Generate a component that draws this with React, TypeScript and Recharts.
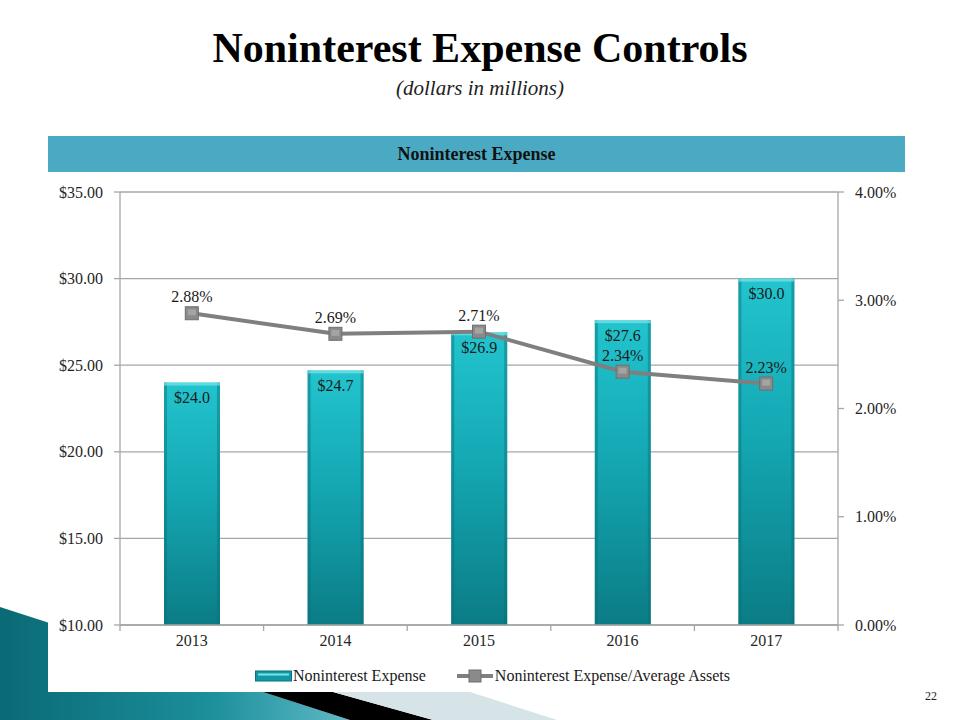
import { Bar, CartesianGrid, ComposedChart, LabelList, Legend, Line, XAxis, YAxis } from 'recharts'

const YEARS = ['2013', '2014', '2015', '2016', '2017']
const EXPENSE = [24.0, 24.7, 26.9, 27.6, 30.0]
const EXPENSE_RATIO = [2.88, 2.69, 2.71, 2.34, 2.23]
const LEFT_TICKS = [10, 15, 20, 25, 30, 35]
const RIGHT_TICKS = [0, 1, 2, 3, 4]

const SERIF = '"Liberation Serif", "Times New Roman", serif'
const GRID = '#a6a6a6'
const TEXT = '#1a1a1a'
const X_TICK_SIZE = 6
const X_TICK_MARGIN = 4

const data = YEARS.map((year, i) => ({
  year,
  expense: EXPENSE[i],
  ratio: EXPENSE_RATIO[i],
}))

function BarShape(props: any) {
  const { x, y, width, height } = props
  if (!height || height <= 0) return null
  return (
    <g>
      <rect x={x} y={y} width={width} height={height} fill="url(#barFill)" />
      <rect x={x} y={y} width={3} height={height} fill="#0a6f77" opacity={0.45} />
      <rect x={x + width - 3} y={y} width={3} height={height} fill="#0a6f77" opacity={0.45} />
      <rect x={x} y={y} width={width} height={3} fill="#7fe4ea" opacity={0.7} />
    </g>
  )
}

function SquareDot(props: any) {
  const { cx, cy } = props
  if (cx == null || cy == null) return null
  return (
    <g>
      <rect x={cx - 6.5} y={cy - 6.5} width={13} height={13} fill="#8a8a8a" stroke="#6f6f6f" strokeWidth={1} />
      <rect x={cx - 4} y={cy - 4} width={8} height={6} fill="#a4a4a4" />
    </g>
  )
}

// year label, with the tick marks sitting on the category edges (Excel style)
function YearTick(props: any) {
  const { x, y, payload, index, width, visibleTicksCount } = props
  const half = width / visibleTicksCount / 2
  const y1 = y - X_TICK_SIZE - X_TICK_MARGIN
  const last = index === visibleTicksCount - 1
  return (
    <g>
      <line x1={x - half} y1={y1} x2={x - half} y2={y1 + X_TICK_SIZE} stroke={GRID} strokeWidth={1.3} />
      {last && <line x1={x + half} y1={y1} x2={x + half} y2={y1 + X_TICK_SIZE} stroke={GRID} strokeWidth={1.3} />}
      <text x={x} y={y} dy="0.71em" textAnchor="middle" fontFamily={SERIF} fontSize={16} fill="#262626">
        {payload.value}
      </text>
    </g>
  )
}

function LegendContent() {
  return (
    <div
      style={{
        height: 22,
        display: 'flex',
        justifyContent: 'center',
        alignItems: 'center',
        fontFamily: SERIF,
        fontSize: 16,
        color: TEXT,
        paddingLeft: 32,
      }}
    >
      <svg width={37} height={12} style={{ marginRight: 1 }}>
        <rect x={0.5} y={1} width={36} height={10} fill="#1099a4" stroke="#0b7480" />
        <rect x={3} y={3.5} width={31} height={2} fill="#7fe4ea" />
      </svg>
      <span>Noninterest Expense</span>
      <svg width={36} height={14} style={{ marginLeft: 31, marginRight: 2 }}>
        <line x1={0} y1={7} x2={36} y2={7} stroke="#7f7f7f" strokeWidth={4} />
        <rect x={12} y={1} width={12} height={12} fill="#8a8a8a" stroke="#6f6f6f" />
      </svg>
      <span>Noninterest Expense/Average Assets</span>
    </div>
  )
}

export default function App() {
  const tickStyle = { fontFamily: SERIF, fontSize: 16, fill: '#262626' }
  return (
    <div
      style={{
        position: 'absolute',
        left: 0,
        top: 0,
        width: 960,
        height: 720,
        background: '#ffffff',
        overflow: 'hidden',
        fontFamily: SERIF,
      }}
    >
      <svg width={960} height={720} style={{ position: 'absolute', left: 0, top: 0 }}>
        <defs>
          <linearGradient id="tealDeco" x1="0" y1="0" x2="1" y2="0">
            <stop offset="0%" stopColor="#0a6a75" />
            <stop offset="60%" stopColor="#1b8f9b" />
            <stop offset="100%" stopColor="#5fb9c4" />
          </linearGradient>
        </defs>
        <polygon points="0,607 350,720 0,720" fill="url(#tealDeco)" />
        <polygon points="263,692 333,692 433,720 350,720" fill="#000000" />
        <polygon points="333,692 470,692 557,720 433,720" fill="#d6e4e7" />
      </svg>

      <div
        style={{
          position: 'absolute',
          left: 0,
          top: 24,
          width: 960,
          textAlign: 'center',
          fontSize: 42,
          fontWeight: 'bold',
          color: '#000',
          lineHeight: '48px',
        }}
      >
        Noninterest Expense Controls
      </div>
      <div
        style={{
          position: 'absolute',
          left: 0,
          top: 75,
          width: 960,
          textAlign: 'center',
          fontSize: 21,
          fontStyle: 'italic',
          color: '#222',
          lineHeight: '26px',
        }}
      >
        (dollars in millions)
      </div>

      <div
        style={{
          position: 'absolute',
          left: 48,
          top: 136,
          width: 857,
          height: 36,
          background: '#4aaac4',
          color: '#111',
          fontWeight: 'bold',
          fontSize: 18,
          lineHeight: '36px',
          textAlign: 'center',
        }}
      >
        Noninterest Expense
      </div>

      <div style={{ position: 'absolute', left: 48, top: 172, width: 857, height: 520, background: '#ffffff' }}>
        <ComposedChart
          width={857}
          height={520}
          data={data}
          margin={{ top: 20, right: 0, bottom: 5, left: 0 }}
          barCategoryGap={0}
        >
          <defs>
            <linearGradient id="barFill" x1="0" y1="0" x2="0" y2="1">
              <stop offset="0%" stopColor="#22c4ce" />
              <stop offset="45%" stopColor="#14a8b3" />
              <stop offset="100%" stopColor="#0b7c85" />
            </linearGradient>
          </defs>
          <CartesianGrid yAxisId="left" vertical={false} stroke={GRID} strokeWidth={1.3} />
          <XAxis
            dataKey="year"
            tick={<YearTick />}
            tickLine={false}
            tickSize={X_TICK_SIZE}
            tickMargin={X_TICK_MARGIN}
            axisLine={{ stroke: GRID, strokeWidth: 1.3 }}
            height={40}
          />
          <YAxis
            yAxisId="left"
            orientation="left"
            domain={[10, 35]}
            ticks={LEFT_TICKS}
            width={72}
            tick={tickStyle}
            tickSize={6}
            tickMargin={11}
            axisLine={{ stroke: GRID, strokeWidth: 1.3 }}
            tickLine={{ stroke: GRID, strokeWidth: 1.3 }}
            tickFormatter={(v: number) => `$${v.toFixed(2)}`}
          />
          <YAxis
            yAxisId="right"
            orientation="right"
            domain={[0, 4]}
            ticks={RIGHT_TICKS}
            width={67}
            tick={tickStyle}
            tickSize={6}
            tickMargin={11}
            axisLine={{ stroke: GRID, strokeWidth: 1.3 }}
            tickLine={{ stroke: GRID, strokeWidth: 1.3 }}
            tickFormatter={(v: number) => `${v.toFixed(2)}%`}
          />
          <Bar
            yAxisId="left"
            dataKey="expense"
            name="Noninterest Expense"
            barSize={56}
            shape={<BarShape />}
            isAnimationActive={false}
          >
            <LabelList
              dataKey="expense"
              position="insideTop"
              offset={9}
              formatter={(v: any) => `$${Number(v).toFixed(1)}`}
              style={{ fontFamily: SERIF, fontSize: 16, fill: TEXT }}
            />
          </Bar>
          <Line
            yAxisId="right"
            dataKey="ratio"
            name="Noninterest Expense/Average Assets"
            stroke="#7f7f7f"
            strokeWidth={4}
            dot={<SquareDot />}
            activeDot={false}
            isAnimationActive={false}
          >
            <LabelList
              dataKey="ratio"
              position="top"
              offset={11}
              formatter={(v: any) => `${Number(v).toFixed(2)}%`}
              style={{ fontFamily: SERIF, fontSize: 16, fill: TEXT }}
            />
          </Line>
          <Legend verticalAlign="bottom" content={<LegendContent />} />
        </ComposedChart>
      </div>

      <div style={{ position: 'absolute', left: 925, top: 689, fontSize: 12, color: '#222' }}>22</div>
    </div>
  )
}
